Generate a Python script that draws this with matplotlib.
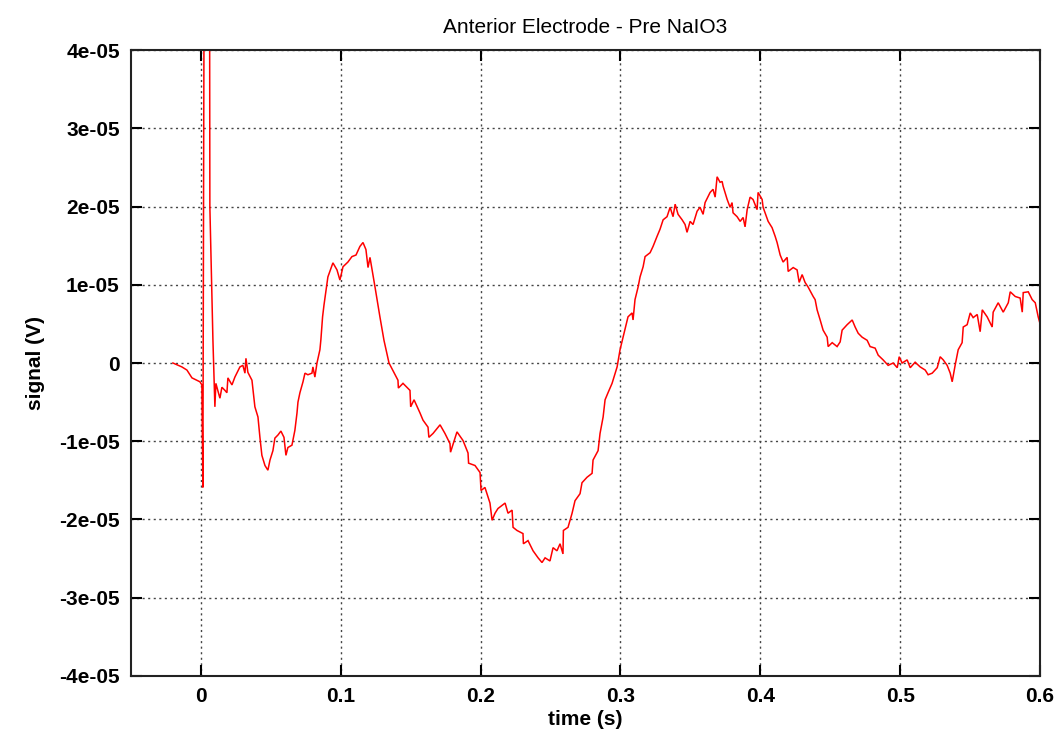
import numpy as np
import matplotlib
matplotlib.use("Agg")
import matplotlib.pyplot as plt

title = "Anterior Electrode - Pre NaIO3"
xlabel = "time (s)"
ylabel = "signal (V)"
xticks = [0, 0.1, 0.2, 0.3, 0.4, 0.5, 0.6]
xtick_labels = ["0", "0.1", "0.2", "0.3", "0.4", "0.5", "0.6"]
yticks = [-4e-5, -3e-5, -2e-5, -1e-5, 0, 1e-5, 2e-5, 3e-5, 4e-5]
ytick_labels = ["-4e-05", "-3e-05", "-2e-05", "-1e-05", "0", "1e-05", "2e-05", "3e-05", "4e-05"]

time_s = [
    -0.0200, -0.0136, -0.0100, -0.0064, -0.0029, -0.0007, 0.0007, 0.0014, 0.0025, 0.0061,
    0.0064, 0.0086, 0.0100, 0.0107, 0.0136, 0.0150, 0.0172, 0.0186, 0.0193, 0.0222,
    0.0243, 0.0279, 0.0300, 0.0315, 0.0322, 0.0336, 0.0365, 0.0386, 0.0408, 0.0422,
    0.0436, 0.0458, 0.0479, 0.0494, 0.0515, 0.0529, 0.0551, 0.0572, 0.0594, 0.0608,
    0.0622, 0.0651, 0.0672, 0.0687, 0.0694, 0.0708, 0.0730, 0.0744, 0.0765, 0.0794,
    0.0801, 0.0815, 0.0830, 0.0851, 0.0858, 0.0870, 0.0880, 0.0908, 0.0944, 0.0973,
    0.0994, 0.1016, 0.1051, 0.1080, 0.1109, 0.1137, 0.1159, 0.1180, 0.1195, 0.1209,
    0.1245, 0.1280, 0.1309, 0.1345, 0.1409, 0.1412, 0.1445, 0.1495, 0.1500, 0.1524,
    0.1567, 0.1588, 0.1624, 0.1630, 0.1660, 0.1710, 0.1745, 0.1781, 0.1785, 0.1831,
    0.1874, 0.1910, 0.1914, 0.1960, 0.1996, 0.2003, 0.2031, 0.2067, 0.2082, 0.2103,
    0.2124, 0.2175, 0.2196, 0.2225, 0.2232, 0.2260, 0.2303, 0.2306, 0.2339, 0.2375,
    0.2411, 0.2439, 0.2461, 0.2496, 0.2518, 0.2546, 0.2568, 0.2589, 0.2592, 0.2625,
    0.2654, 0.2675, 0.2711, 0.2725, 0.2761, 0.2797, 0.2804, 0.2840, 0.2854, 0.2876,
    0.2890, 0.2911, 0.2940, 0.2976, 0.2997, 0.3019, 0.3054, 0.3083, 0.3090, 0.3104,
    0.3126, 0.3140, 0.3162, 0.3176, 0.3212, 0.3233, 0.3262, 0.3283, 0.3305, 0.3333,
    0.3355, 0.3376, 0.3391, 0.3412, 0.3441, 0.3462, 0.3476, 0.3498, 0.3519, 0.3548,
    0.3569, 0.3591, 0.3605, 0.3641, 0.3662, 0.3677, 0.3691, 0.3712, 0.3727, 0.3734,
    0.3763, 0.3784, 0.3798, 0.3805, 0.3834, 0.3856, 0.3877, 0.3891, 0.3906, 0.3927,
    0.3948, 0.3977, 0.3984, 0.4013, 0.4020, 0.4056, 0.4084, 0.4106, 0.4120, 0.4142,
    0.4163, 0.4192, 0.4199, 0.4235, 0.4263, 0.4278, 0.4299, 0.4320, 0.4342, 0.4378,
    0.4392, 0.4406, 0.4428, 0.4449, 0.4478, 0.4485, 0.4514, 0.4549, 0.4571, 0.4585,
    0.4621, 0.4657, 0.4678, 0.4700, 0.4728, 0.4764, 0.4785, 0.4821, 0.4843, 0.4878,
    0.4914, 0.4950, 0.4979, 0.4993, 0.5014, 0.5050, 0.5072, 0.5107, 0.5143, 0.5179,
    0.5200, 0.5229, 0.5265, 0.5286, 0.5308, 0.5336, 0.5358, 0.5372, 0.5393, 0.5415,
    0.5443, 0.5451, 0.5479, 0.5501, 0.5522, 0.5551, 0.5572, 0.5587, 0.5622, 0.5658,
    0.5665, 0.5701, 0.5737, 0.5773, 0.5787, 0.5823, 0.5858, 0.5873, 0.5880, 0.5916,
    0.5944, 0.5966, 0.5987, 0.6002,
]

signal_e5 = [
    0.00, -0.05, -0.09, -0.19, -0.22, -0.24, -0.28, -1.59, 6.50, 6.50,
    2.00, 0.29, -0.56, -0.26, -0.45, -0.31, -0.35, -0.38, -0.19, -0.28,
    -0.18, -0.05, -0.03, -0.13, 0.06, -0.12, -0.22, -0.56, -0.69, -0.95,
    -1.18, -1.31, -1.37, -1.24, -1.12, -0.96, -0.92, -0.87, -0.95, -1.18,
    -1.08, -1.05, -0.86, -0.64, -0.50, -0.38, -0.24, -0.13, -0.15, -0.13,
    -0.05, -0.18, 0.00, 0.17, 0.30, 0.59, 0.74, 1.10, 1.28, 1.19,
    1.06, 1.23, 1.29, 1.36, 1.38, 1.49, 1.54, 1.45, 1.22, 1.35,
    0.97, 0.59, 0.29, 0.00, -0.22, -0.32, -0.26, -0.35, -0.56, -0.47,
    -0.64, -0.73, -0.82, -0.95, -0.90, -0.79, -0.90, -1.03, -1.14, -0.88,
    -0.99, -1.15, -1.28, -1.31, -1.40, -1.63, -1.59, -1.79, -2.01, -1.92,
    -1.86, -1.79, -1.92, -1.88, -2.10, -2.14, -2.18, -2.31, -2.27, -2.40,
    -2.49, -2.55, -2.49, -2.53, -2.36, -2.40, -2.31, -2.44, -2.14, -2.10,
    -1.92, -1.76, -1.67, -1.53, -1.46, -1.41, -1.24, -1.12, -0.90, -0.69,
    -0.47, -0.38, -0.26, -0.05, 0.17, 0.33, 0.59, 0.64, 0.55, 0.81,
    0.97, 1.10, 1.23, 1.36, 1.41, 1.49, 1.62, 1.71, 1.83, 1.87,
    1.99, 1.87, 2.03, 1.90, 1.83, 1.77, 1.67, 1.81, 1.77, 1.94,
    1.99, 1.90, 2.05, 2.18, 2.22, 2.12, 2.38, 2.31, 2.32, 2.26,
    2.09, 1.99, 2.05, 1.92, 1.87, 1.81, 1.86, 1.74, 1.96, 2.12,
    2.09, 1.96, 2.18, 2.09, 1.99, 1.81, 1.73, 1.62, 1.54, 1.38,
    1.29, 1.35, 1.17, 1.22, 1.19, 1.03, 1.13, 1.03, 0.97, 0.85,
    0.81, 0.68, 0.55, 0.42, 0.33, 0.21, 0.26, 0.21, 0.27, 0.42,
    0.49, 0.55, 0.46, 0.38, 0.33, 0.29, 0.21, 0.19, 0.10, 0.04,
    -0.03, 0.00, -0.06, 0.08, 0.00, 0.04, -0.06, 0.01, -0.05, -0.09,
    -0.15, -0.13, -0.06, 0.08, 0.04, -0.03, -0.13, -0.24, -0.03, 0.17,
    0.26, 0.46, 0.49, 0.64, 0.58, 0.62, 0.40, 0.68, 0.59, 0.46,
    0.65, 0.77, 0.65, 0.77, 0.91, 0.85, 0.83, 0.65, 0.90, 0.91,
    0.81, 0.77, 0.59, 0.49,
]

t = np.array(time_s)
v = np.array(signal_e5) * 1e-5

plt.rcParams['font.family'] = ['Liberation Sans', 'DejaVu Sans']

fig = plt.figure(figsize=(10.58, 7.40), dpi=100)
ax = fig.add_axes([0.1238, 0.0865, 0.8592, 0.8459])

ax.plot(t, v, color='#ff0000', linewidth=1.1, solid_joinstyle='miter')

ax.set_xlim(-0.05, 0.6)
ax.set_ylim(-4e-5, 4e-5)
ax.set_xticks(xticks)
ax.set_xticklabels(xtick_labels)
ax.set_yticks(yticks)
ax.set_yticklabels(ytick_labels)

ax.grid(True, linestyle=(0, (1.5, 2.5)), color='#444444', linewidth=1.0)
ax.tick_params(direction='in', length=8, width=1.5, top=True, right=True,
               labelsize=15, pad=8)
for lab in ax.get_xticklabels() + ax.get_yticklabels():
    lab.set_fontweight('bold')
for s in ax.spines.values():
    s.set_linewidth(1.5)
    s.set_color('#222222')

ax.set_title(title, fontsize=15, pad=12)
ax.set_xlabel(xlabel, fontsize=15, fontweight='bold', labelpad=3)
ax.set_ylabel(ylabel, fontsize=15, fontweight='bold', labelpad=10)

fig.savefig("out.png", dpi=100)
